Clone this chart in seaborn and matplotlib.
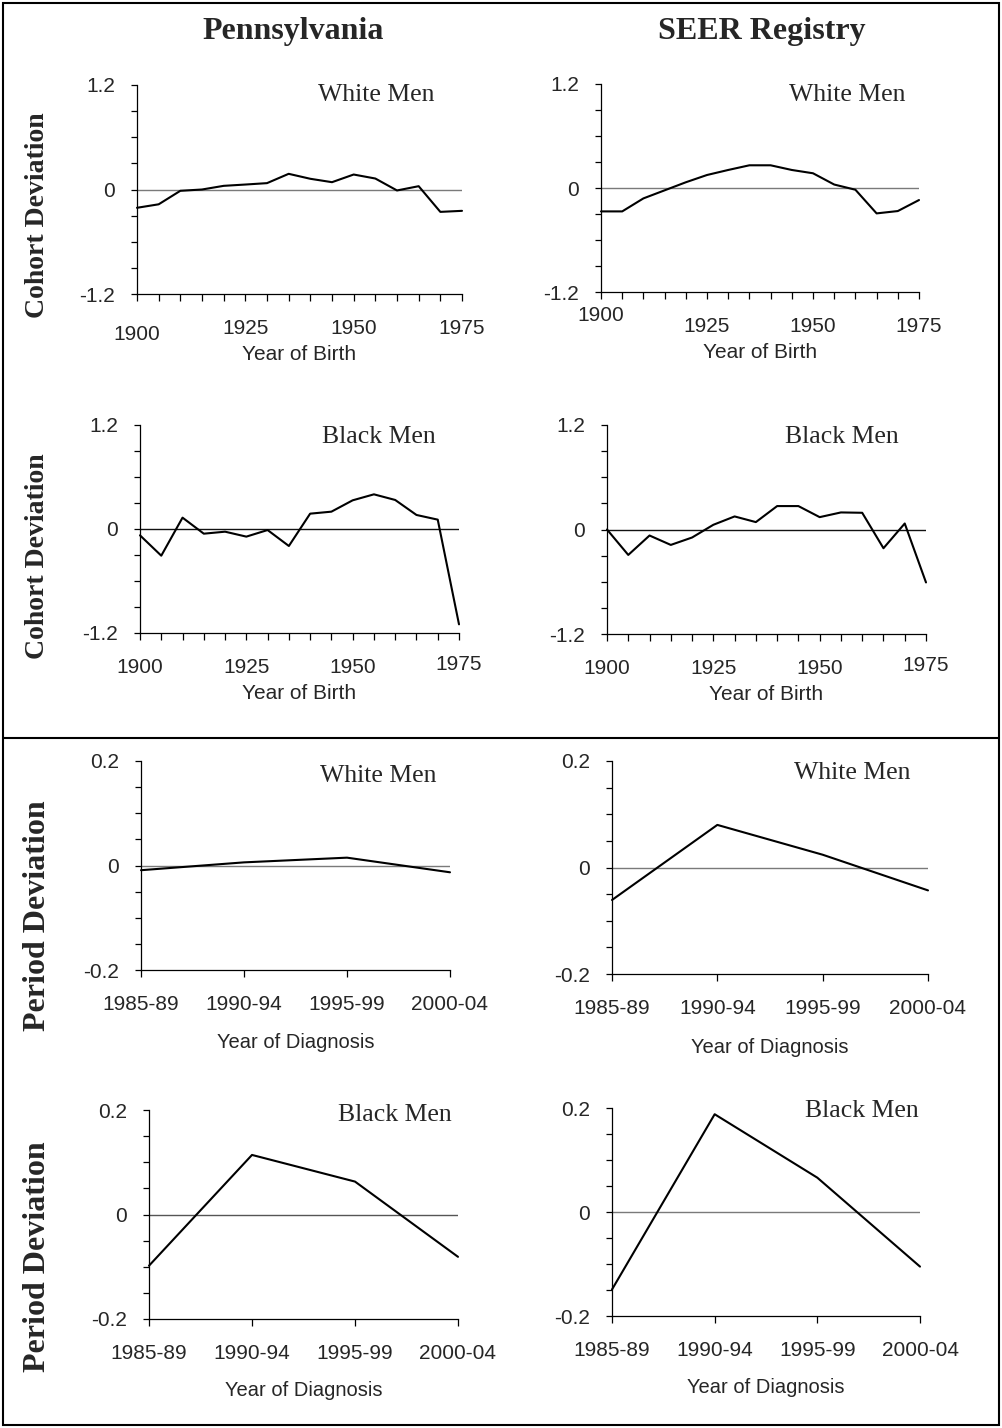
import numpy as np
import pandas as pd
import matplotlib
matplotlib.use("Agg")
import matplotlib.pyplot as plt
from matplotlib.patches import Rectangle
from matplotlib.lines import Line2D
from matplotlib.transforms import ScaledTranslation
import seaborn as sns

# ---------------- data ----------------
birth_years = [1900, 1905, 1910, 1915, 1920, 1925, 1930, 1935,
               1940, 1945, 1950, 1955, 1960, 1965, 1970, 1975]
pa_white_cohort = [-0.21, -0.17, -0.015, 0.0, 0.042, 0.057, 0.073, 0.18,
                   0.123, 0.084, 0.172, 0.126, -0.011, 0.038, -0.257, -0.245]
seer_white_cohort = [-0.27, -0.27, -0.12, -0.027, 0.066, 0.15, 0.208, 0.262,
                     0.262, 0.208, 0.17, 0.04, -0.02, -0.293, -0.266, -0.139]
pa_black_cohort = [-0.073, -0.308, 0.131, -0.054, -0.031, -0.088, -0.012, -0.196,
                   0.177, 0.2, 0.331, 0.4, 0.335, 0.162, 0.108, -1.1]
seer_black_cohort = [0.0, -0.292, -0.069, -0.177, -0.092, 0.054, 0.15, 0.085,
                     0.269, 0.269, 0.142, 0.196, 0.192, -0.215, 0.069, -0.608]

diag_periods = ["1985-89", "1990-94", "1995-99", "2000-04"]
pa_white_period = [-0.009, 0.006, 0.015, -0.013]
seer_white_period = [-0.061, 0.080, 0.024, -0.043]
pa_black_period = [-0.098, 0.114, 0.063, -0.081]
seer_black_period = [-0.149, 0.188, 0.066, -0.105]

col_titles = ["Pennsylvania", "SEER Registry"]
row_labels = ["Cohort Deviation", "Cohort Deviation", "Period Deviation", "Period Deviation"]
group_labels = ["White Men", "White Men", "Black Men", "Black Men",
                "White Men", "White Men", "Black Men", "Black Men"]
cohort_xlabel = "Year of Birth"
period_xlabel = "Year of Diagnosis"

# ---------------- style ----------------
sns.set_theme(style="white")
plt.rcParams["font.family"] = ["Liberation Sans", "DejaVu Sans"]
SERIF = ["Liberation Serif", "DejaVu Serif"]

W, H = 1002, 1428
fig = plt.figure(figsize=(W / 100, H / 100), dpi=100)
fig.patch.set_facecolor("white")

def add_ax(l, r, t, b):
    return fig.add_axes([l / W, 1 - b / H, (r - l) / W, (b - t) / H])

# pixel boxes (left, right, top, bottom)
boxes = [(137, 462, 85, 294), (601, 919, 84, 292),
         (140, 459, 425, 633), (607, 926, 425, 634),
         (141, 450, 761, 970), (612, 928, 761, 974),
         (149, 458, 1110, 1319), (612, 920, 1108, 1316)]
label_pos = [(0.735, 0.952), (0.774, 0.947), (0.749, 0.942), (0.737, 0.943),
             (0.767, 0.928), (0.759, 0.944), (0.796, 0.976), (0.81, 0.986)]
zero_colors = ["#7a7a7a", "#7a7a7a", "#111111", "#111111",
               "#7a7a7a", "#7a7a7a", "#555555", "#7a7a7a"]
# downward pixel offsets of individual x tick labels (quirks of the original)
xlab_offsets = [{0: 6}, {0: -11}, {3: -3}, {3: -3}, {}, {}, {}, {}]

series = [pa_white_cohort, seer_white_cohort, pa_black_cohort, seer_black_cohort,
          pa_white_period, seer_white_period, pa_black_period, seer_black_period]

TICK_FS = 15
for i, (box, vals) in enumerate(zip(boxes, series)):
    ax = add_ax(*box)
    cohort = i < 4
    if cohort:
        df = pd.DataFrame({"x": birth_years, "y": vals})
    else:
        df = pd.DataFrame({"x": np.arange(len(diag_periods)), "y": vals})
    ax.axhline(0, color=zero_colors[i], lw=1.0, zorder=1)
    sns.lineplot(data=df, x="x", y="y", ax=ax, color="black", lw=1.5,
                 sort=False, zorder=3, clip_on=False)
    for s in ["top", "right"]:
        ax.spines[s].set_visible(False)
    for s in ["left", "bottom"]:
        ax.spines[s].set_color("black")
        ax.spines[s].set_linewidth(0.9)
    if cohort:
        ax.set_xlim(1900, 1975)
        ax.set_ylim(-1.2, 1.2)
        ax.set_xticks(birth_years)
        ax.set_xticklabels([str(y) if (y - 1900) % 25 == 0 else "" for y in birth_years])
        yt = np.round(np.arange(-1.2, 1.21, 0.3), 2)
        ax.set_yticks(yt)
        ax.set_yticklabels(["-1.2" if v == -1.2 else ("1.2" if v == 1.2 else ("0" if v == 0 else "")) for v in yt])
        ax.set_xlabel(cohort_xlabel, fontsize=TICK_FS)
        ax.xaxis.set_label_coords(0.5, -61 / 209)
    else:
        ax.set_xlim(0, len(diag_periods) - 1)
        ax.set_ylim(-0.2, 0.2)
        ax.set_xticks(np.arange(len(diag_periods)))
        ax.set_xticklabels(diag_periods)
        yt = np.round(np.arange(-0.2, 0.201, 0.05), 2)
        ax.set_yticks(yt)
        ax.set_yticklabels(["-0.2" if v == -0.2 else ("0.2" if v == 0.2 else ("0" if v == 0 else "")) for v in yt])
        ax.set_xlabel(period_xlabel, fontsize=TICK_FS - 0.5)
        ax.xaxis.set_label_coords(0.5, -72 / 209)
    ax.xaxis.label.set_va("center")
    ax.set_ylabel("")
    ax.tick_params(axis="x", direction="out", length=5, width=0.9, color="black",
                   labelsize=TICK_FS, pad=13, bottom=True)
    ax.tick_params(axis="y", direction="out", length=4, width=0.9, color="black",
                   labelsize=TICK_FS, pad=12, left=True)
    nonempty = [lab for lab in ax.get_xticklabels() if lab.get_text()]
    for k, dy in xlab_offsets[i].items():
        lab = nonempty[k]
        lab.set_transform(lab.get_transform() + ScaledTranslation(0, -dy / 100, fig.dpi_scale_trans))
    ax.text(label_pos[i][0], label_pos[i][1], group_labels[i], transform=ax.transAxes,
            ha="center", va="center", family=SERIF, fontsize=18.5)

# column titles
fig.text(293 / W, 1 - 32 / H, col_titles[0], ha="center", va="center",
         family=SERIF, fontweight="bold", fontsize=23)
fig.text(762 / W, 1 - 32 / H, col_titles[1], ha="center", va="center",
         family=SERIF, fontweight="bold", fontsize=23)

# row labels
row_y = [215, 556, 916, 1257]
row_fs = [20, 20, 23, 23]
for lab, yy, fs in zip(row_labels, row_y, row_fs):
    fig.text(38 / W, 1 - yy / H, lab, rotation=90, ha="center", va="center",
             family=SERIF, fontweight="bold", fontsize=fs)

# frame and divider
fig.add_artist(Rectangle((3 / W, 3 / H), (W - 6) / W, (H - 6) / H,
                         transform=fig.transFigure, fill=False, ec="black", lw=1.5))
fig.add_artist(Line2D([3 / W, (W - 3) / W], [1 - 738 / H, 1 - 738 / H],
                      transform=fig.transFigure, color="black", lw=1.5))

fig.savefig("out.png", dpi=100, facecolor="white")
